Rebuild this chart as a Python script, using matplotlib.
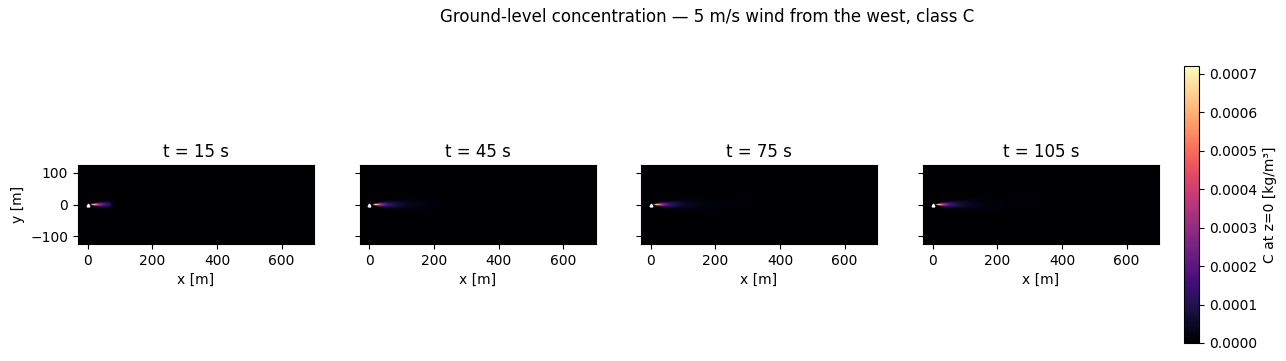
import math
import numpy as np
import matplotlib
matplotlib.use("Agg")
import matplotlib.pyplot as plt

# snapshot times and release setup
times = [15, 45, 75, 105]          # s
wind_speed = 5.0                   # m/s, from the west
source_xy = (0.0, 0.0)             # m
source_height = 2.0                # m
emission_rate = 0.08               # kg/s
x_range = (-30.0, 700.0)           # m
y_range = (-125.0, 125.0)          # m
cell = 2.5                         # m
c_max = 7.2e-4                     # colour scale top, kg/m^3


def briggs_c(x):
    # rural class C dispersion coefficients
    sy = 0.11 * x / np.sqrt(1 + 0.0001 * x)
    sz = 0.08 * x / np.sqrt(1 + 0.0002 * x)
    return sy, sz


def ground_conc(X, Y, t):
    xd = np.clip(X - source_xy[0], 1e-3, None)
    sy, sz = briggs_c(xd)
    c = emission_rate / (np.pi * wind_speed * sy * sz)
    c *= np.exp(-(Y - source_xy[1]) ** 2 / (2 * sy ** 2))
    c *= np.exp(-source_height ** 2 / (2 * sz ** 2))
    front = 0.5 * np.vectorize(math.erfc)((xd - wind_speed * t) / (np.sqrt(2) * sy))
    c *= front
    c[X <= source_xy[0]] = 0.0
    return c


xs = np.arange(x_range[0], x_range[1] + 1, cell)
ys = np.arange(y_range[0], y_range[1] + 1, cell)
X, Y = np.meshgrid(xs, ys)
extent = [xs[0] - cell / 2, xs[-1] + cell / 2, ys[0] - cell / 2, ys[-1] + cell / 2]

fig = plt.figure(figsize=(12.86, 3.61), dpi=100)
W, H = 1286, 361
lefts = [78, 359.5, 641, 923]
for i, t in enumerate(times):
    ax = fig.add_axes([lefts[i] / W, (H - 244) / H, 236 / W, 79 / H])
    field = ground_conc(X, Y, t)
    im = ax.imshow(field, origin="lower", cmap="magma", vmin=0, vmax=c_max,
                   extent=extent, aspect="auto")
    ax.plot(*source_xy, marker="^", color="white", markersize=2, linestyle="none")
    ax.set_xlim(*x_range)
    ax.set_ylim(*y_range)
    ax.set_xticks([0, 200, 400, 600])
    ax.set_yticks([-100, 0, 100])
    ax.set_title(f"t = {t} s")
    ax.set_xlabel("x [m]")
    if i == 0:
        ax.set_ylabel("y [m]")
    else:
        ax.set_yticklabels([])

cax = fig.add_axes([1184 / W, (H - 343) / H, 15 / W, 277 / H])
cb = fig.colorbar(im, cax=cax)
cb.set_label("C at z=0 [kg/m³]")

fig.text(0.55, 1 - 17 / H, "Ground-level concentration — 5 m/s wind from the west, class C",
         ha="center", va="center", fontsize=12)

fig.savefig("out.png", dpi=100)
